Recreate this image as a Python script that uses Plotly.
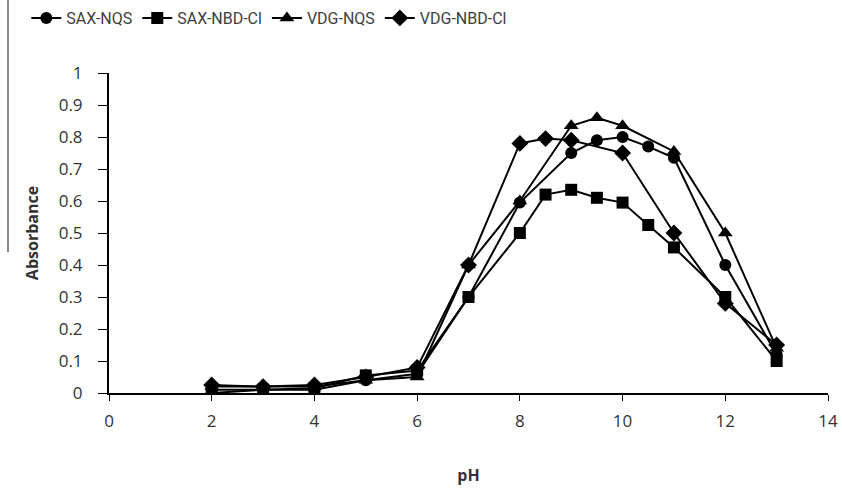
import plotly.graph_objects as go

# ---- data ----
sax_nqs_x = [2, 3, 4, 5, 6, 7, 8, 9, 9.5, 10, 10.5, 11, 12, 13]
sax_nqs_y = [0.00, 0.01, 0.01, 0.04, 0.06, 0.30, 0.595, 0.75, 0.79, 0.80, 0.77, 0.735, 0.40, 0.12]

sax_nbd_x = [2, 3, 4, 5, 6, 7, 8, 8.5, 9, 9.5, 10, 10.5, 11, 12, 13]
sax_nbd_y = [0.01, 0.01, 0.015, 0.055, 0.07, 0.30, 0.50, 0.62, 0.635, 0.61, 0.595, 0.525, 0.455, 0.30, 0.10]

vdg_nqs_x = [2, 3, 4, 5, 6, 7, 8, 9, 9.5, 10, 11, 12, 13]
vdg_nqs_y = [0.02, 0.02, 0.02, 0.04, 0.05, 0.40, 0.60, 0.835, 0.86, 0.835, 0.755, 0.50, 0.14]

vdg_nbd_x = [2, 3, 4, 5, 6, 7, 8, 8.5, 9, 10, 11, 12, 13]
vdg_nbd_y = [0.025, 0.02, 0.025, 0.05, 0.08, 0.40, 0.78, 0.795, 0.79, 0.75, 0.50, 0.28, 0.15]

series_names = ["SAX-NQS", "SAX-NBD-Cl", "VDG-NQS", "VDG-NBD-Cl"]
symbols = ["circle", "square", "triangle-up", "diamond"]
marker_sizes = [12, 12, 13, 13]

x_ticks = [0, 2, 4, 6, 8, 10, 12, 14]
y_ticks = [0, 0.1, 0.2, 0.3, 0.4, 0.5, 0.6, 0.7, 0.8, 0.9, 1]
y_tick_text = ["0", "0.1", "0.2", "0.3", "0.4", "0.5", "0.6", "0.7", "0.8", "0.9", "1"]

FONT = "Open Sans, sans-serif"
LEGEND_FONT = "Roboto, Open Sans, sans-serif"

fig = go.Figure()
data = [(sax_nqs_x, sax_nqs_y), (sax_nbd_x, sax_nbd_y), (vdg_nqs_x, vdg_nqs_y), (vdg_nbd_x, vdg_nbd_y)]
for (xs, ys), name, sym, ms in zip(data, series_names, symbols, marker_sizes):
    fig.add_trace(go.Scatter(
        x=xs, y=ys, name=name, mode="lines+markers",
        line=dict(color="black", width=2),
        marker=dict(symbol=sym, size=ms, color="black"),
    ))

fig.update_layout(
    width=842, height=489,
    margin=dict(l=109, r=14, t=73, b=96, autoexpand=False),
    paper_bgcolor="white", plot_bgcolor="white",
    font=dict(family=FONT, size=16, color="#333333"),
    showlegend=True,
    legend=dict(orientation="h", x=-0.115, xanchor="left", y=(393 - 18) / 320, yanchor="middle",
                font=dict(family=LEGEND_FONT, size=16, color="#404040"),
                itemwidth=30, tracegroupgap=0),
    xaxis=dict(range=[0, 14], tickvals=x_ticks, showgrid=False, zeroline=False,
               showline=True, linecolor="black", linewidth=2,
               ticks="outside", ticklen=6, tickcolor="black", tickwidth=1,
               ticklabelstandoff=6,
               tickfont=dict(family=FONT, size=17, color="#333333"),
               title=dict(text="<b>pH</b>", standoff=38,
                          font=dict(family=FONT, size=16, color="#333333"))),
    yaxis=dict(range=[0, 1], tickvals=y_ticks, ticktext=y_tick_text, showgrid=False, zeroline=False,
               showline=True, linecolor="black", linewidth=2,
               ticks="outside", ticklen=9, tickcolor="black", tickwidth=1,
               ticklabelstandoff=12,
               tickfont=dict(family=FONT, size=17, color="#333333"),
               title=dict(text="<b>Absorbance</b>", standoff=16,
                          font=dict(family=FONT, size=16, color="#333333"))),
    shapes=[dict(type="line", xref="paper", yref="paper",
                 x0=-101/719, x1=-101/719, y0=(393-0)/320, y1=(393-252)/320,
                 line=dict(color="#888888", width=2))],
)

fig.write_html("out.html")
